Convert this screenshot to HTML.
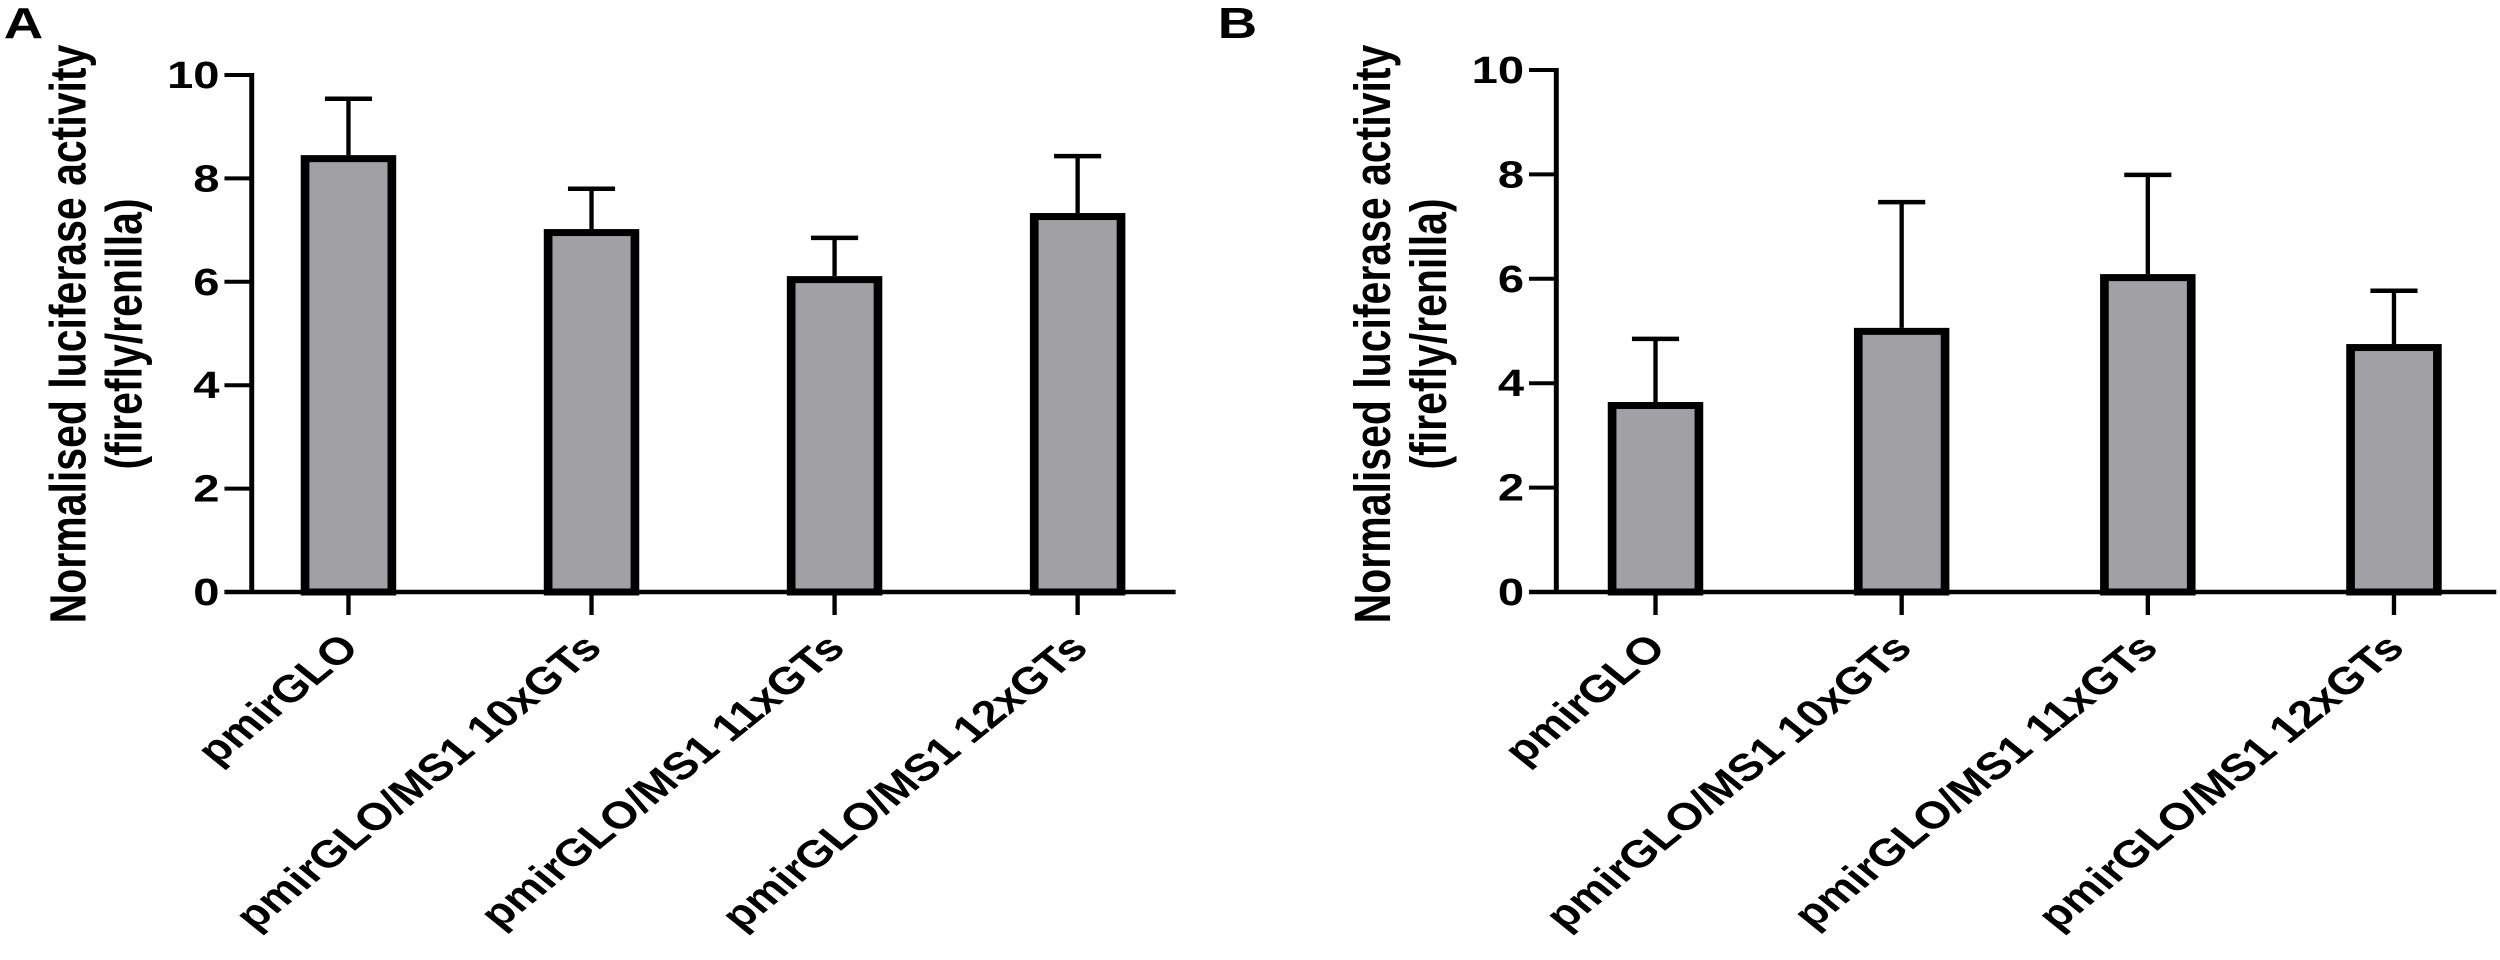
<!DOCTYPE html>
<html><head><meta charset="utf-8"><style>
html,body{margin:0;padding:0;background:#fff;width:2500px;height:960px;overflow:hidden}
svg{display:block}
text{font-family:"Liberation Sans",Arial,sans-serif;font-weight:bold;fill:#000}
</style></head><body>
<svg id="fig" width="2500" height="960" viewBox="0 0 2016 960" preserveAspectRatio="none" xmlns="http://www.w3.org/2000/svg"></svg>
<script>
const categories = ["pmirGLO","pmirGLO/MS1 10xGTs","pmirGLO/MS1 11xGTs","pmirGLO/MS1 12xGTs"];
const yTicks = [0,2,4,6,8,10];
const meansA = [8.45, 7.02, 6.11, 7.33];
const errA = [9.54, 7.80, 6.85, 8.43];
const meansB = [3.64, 5.06, 6.09, 4.75];
const errB = [4.85, 7.47, 7.99, 5.77];

const NS = "http://www.w3.org/2000/svg";
const svg = document.getElementById("fig");
function el(tag, attrs, parent){
  const e = document.createElementNS(NS, tag);
  for (const k in attrs) e.setAttribute(k, attrs[k]);
  (parent||svg).appendChild(e);
  return e;
}
function panel(cfg, means, errs){
  const g = el("g", {});
  
  
  const y = v => cfg.y0 - v*(cfg.y0 - cfg.y10)/10;
  const x = i => cfg.c0 + i*cfg.step;
  const L = el("text", {x: cfg.letterX, y: 38, "font-size": 44}, g);
  L.textContent = cfg.letter;
  
  
  const t1 = el("text", {transform:`translate(${cfg.axisX-134},334) rotate(-90)`, "text-anchor":"middle", "font-size":41}, g);
  t1.textContent = "Normalised luciferase activity";
  
  
  const t2 = el("text", {transform:`translate(${cfg.axisX-89},334) rotate(-90)`, "text-anchor":"middle", "font-size":41}, g);
  t2.textContent = "(firefly/renilla)";
  
  
  means.forEach((m, i) => {
    const cx = x(i);
    const e = el("line", {x1:cx, x2:cx, y1:y(m), y2:y(errs[i]), stroke:"#000", "stroke-width":3.5}, g);
    
    
    const c = el("line", {x1:cx-19, x2:cx+19, y1:y(errs[i]), y2:y(errs[i]), stroke:"#000", "stroke-width":4.5}, g);
    
    
    const r = el("rect", {x:cx-35, y:y(m)+3.5, width:70, height:cfg.y0-y(m)-3.5, fill:"#a1a1a5", stroke:"#000", "stroke-width":7}, g);
    
    
    const tk = el("line", {x1:cx, x2:cx, y1:cfg.y0, y2:cfg.y0+23, stroke:"#000", "stroke-width":3.5}, g);
    
    
    const lb = el("text", {transform:`translate(${cx+10},${cfg.y0+58}) rotate(-45)`, "text-anchor":"end", "font-size":38}, g);
    lb.textContent = categories[i];
    
    
  });
  const ya = el("line", {x1:cfg.axisX, x2:cfg.axisX, y1:y(10)-2, y2:cfg.y0+2, stroke:"#000", "stroke-width":4}, g);
  
  
  const xa = el("line", {x1:cfg.axisX-22, x2:cfg.axisEnd, y1:cfg.y0, y2:cfg.y0, stroke:"#000", "stroke-width":4.5}, g);
  
  
  yTicks.forEach(v => {
    const tl = el("line", {x1:cfg.axisX-22, x2:cfg.axisX, y1:y(v), y2:y(v), stroke:"#000", "stroke-width":4}, g);
    
    
    const tt = el("text", {x:cfg.axisX-26, y:y(v)+13, "text-anchor":"end", "font-size":38}, g);
    tt.textContent = v;
    
    
  });
}
panel({name:"panel-a", letter:"A", letterX:3, axisX:203, axisEnd:948, c0:281, step:196, y0:592, y10:75}, meansA, errA);
panel({name:"panel-b", letter:"B", letterX:982, axisX:1255, axisEnd:2013, c0:1335, step:198.5, y0:592, y10:70}, meansB, errB);
</script>
</body></html>
